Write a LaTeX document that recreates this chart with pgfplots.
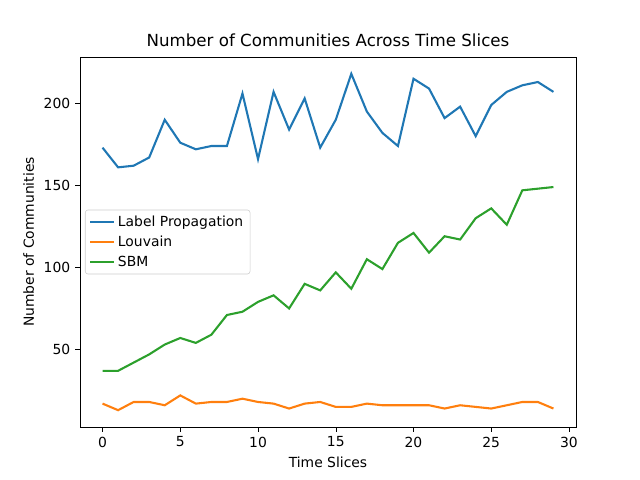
\documentclass[border=0pt]{standalone}
\usepackage{pgfplots}
\pgfplotsset{compat=1.18}
\usepackage{fontspec}
\setmainfont{DejaVu Sans}
\definecolor{c1}{HTML}{1F77B4}
\definecolor{c2}{HTML}{FF7F0E}
\definecolor{c3}{HTML}{2CA02C}
\begin{document}
\fontsize{10pt}{12pt}\selectfont
\begin{tikzpicture}[x=0.72pt,y=0.72pt]
\path (-80,-53) rectangle (560,427);
\begin{axis}[at={(0,0)},anchor=south west,scale only axis,width=357.1pt,height=266.4pt,
xmin=-1.45,xmax=30.45,ymin=2.75,ymax=228.25,
xtick={0,5,...,30},ytick={50,100,150,200},
xtick pos=left,ytick pos=left,
tick align=outside,tick style={black},major tick length=3.5pt,
/pgf/number format/assume math mode=true,
ticklabel style={font=\fontsize{10pt}{12pt}\selectfont},
xlabel={Time Slices},ylabel={Number of Communities},
title={Number of Communities Across Time Slices},
title style={font=\fontsize{12pt}{14pt}\selectfont,yshift=-2pt},
legend style={at={(0.01,0.5)},anchor=west,draw=black!20,rounded corners=2pt,font=\fontsize{10pt}{12pt}\selectfont,row sep=1.5pt},
legend cell align=left,
every axis plot/.append style={line width=1.5pt}]
\addplot[c1] coordinates {(0,173)(1,161)(2,162)(3,167)(4,190)(5,176)(6,172)(7,174)(8,174)(9,206)(10,166)(11,207)(12,184)(13,203)(14,173)(15,190)(16,218)(17,195)(18,182)(19,174)(20,215)(21,209)(22,191)(23,198)(24,180)(25,199)(26,207)(27,211)(28,213)(29,207)};
\addlegendentry{Label Propagation}
\addplot[c2] coordinates {(0,17)(1,13)(2,18)(3,18)(4,16)(5,22)(6,17)(7,18)(8,18)(9,20)(10,18)(11,17)(12,14)(13,17)(14,18)(15,15)(16,15)(17,17)(18,16)(19,16)(20,16)(21,16)(22,14)(23,16)(24,15)(25,14)(26,16)(27,18)(28,18)(29,14)};
\addlegendentry{Louvain}
\addplot[c3] coordinates {(0,37)(1,37)(2,42)(3,47)(4,53)(5,57)(6,54)(7,59)(8,71)(9,73)(10,79)(11,83)(12,75)(13,90)(14,86)(15,97)(16,87)(17,105)(18,99)(19,115)(20,121)(21,109)(22,119)(23,117)(24,130)(25,136)(26,126)(27,147)(28,148)(29,149)};
\addlegendentry{SBM}
\end{axis}
\end{tikzpicture}
\end{document}
